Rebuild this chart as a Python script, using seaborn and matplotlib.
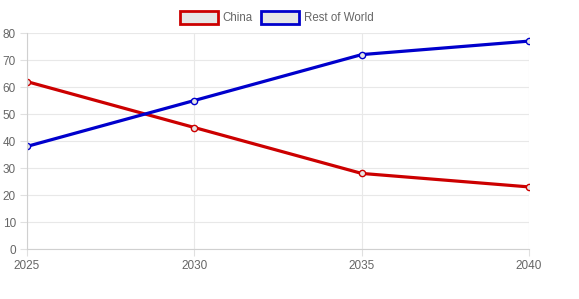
import matplotlib
matplotlib.use("Agg")
import matplotlib.pyplot as plt
import seaborn as sns
import pandas as pd
from matplotlib.patches import Patch

years = ["2025", "2030", "2035", "2040"]
china = [62, 45, 28, 23]
rest_of_world = [38, 55, 72, 77]
series_names = ["China", "Rest of World"]
colors = {"China": "#cc0000", "Rest of World": "#0000cc"}

df = pd.DataFrame({
    "x": list(range(len(years))) * 2,
    "value": china + rest_of_world,
    "series": ["China"] * len(years) + ["Rest of World"] * len(years),
})

sns.set_style("white")
plt.rcParams["font.family"] = ["Liberation Sans", "DejaVu Sans"]

fig = plt.figure(figsize=(5.79, 2.99), dpi=100)
ax = fig.add_axes([0.0466, 0.1672, 0.867, 0.7224])

sns.lineplot(data=df, x="x", y="value", hue="series", palette=colors, ax=ax,
             linewidth=2.3, marker="o", markersize=4.5, markerfacecolor="#e6e6e6",
             markeredgewidth=1.0, legend=False, sort=False)
for line in ax.get_lines():
    line.set_markeredgecolor(line.get_color())

ax.set_xlim(0, 3)
ax.set_ylim(0, 80)
ax.set_xticks(range(len(years)))
ax.set_xticklabels(years)
ax.set_yticks(range(0, 81, 10))
ax.set_xlabel("")
ax.set_ylabel("")
ax.grid(True, color="#e8e8e8", linewidth=0.8)
ax.set_axisbelow(True)
for s in ["top", "right"]:
    ax.spines[s].set_visible(False)
for s in ["left", "bottom"]:
    ax.spines[s].set_color("#d0d0d0")
    ax.spines[s].set_linewidth(0.8)
ax.tick_params(axis="both", colors="#e0e0e0", labelcolor="#666666", labelsize=8.5,
               length=5, width=0.8, pad=3, direction="out")
ax.tick_params(axis="both", which="both", left=True, bottom=True)

handles = [Patch(facecolor="#e6e6e6", edgecolor=colors[n], linewidth=2, label=n) for n in series_names]
fig.legend(handles=handles, loc="center", bbox_to_anchor=(0.478, 0.94), ncol=2, frameon=False,
           fontsize=8.3, labelcolor="#666666", handlelength=3.3, handleheight=1.25,
           columnspacing=0.7, handletextpad=0.4)

fig.savefig("out.png", dpi=100)
